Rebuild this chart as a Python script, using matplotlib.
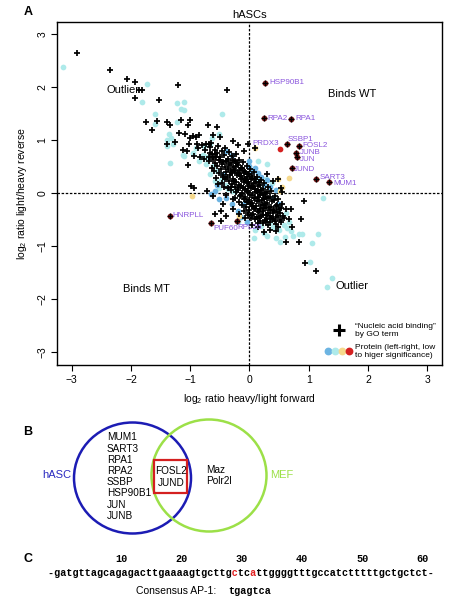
import matplotlib
matplotlib.use("Agg")
import matplotlib.pyplot as plt
from matplotlib.lines import Line2D
from matplotlib.legend_handler import HandlerTuple
from matplotlib.patches import Ellipse, Rectangle

plt.rcParams['font.family'] = ['Liberation Sans', 'DejaVu Sans']
plt.rcParams['mathtext.default'] = 'regular'

# ---- panel A data (log2 ratios) ----
# "nucleic acid binding" proteins (crosses)
cross_x = [-2.91, -2.35, -2.07, -1.94, -1.86, -1.82, -1.94, -1.52, -1.21, -0.38,
           -1.74, -1.64, -1.56, -1.40, -1.34, -1.15, -1.00, -1.04, -0.70, -0.55,
           -1.19, -1.08, -1.01, -0.96, -0.90, -0.85, -1.40, -1.25, -1.02, -0.89,
           -0.80, -0.74, -0.65, -1.12, -1.06, -0.87, -0.75, -0.66, -0.59, -0.93,
           -0.84, -0.76, -0.69, -0.62, -1.04, -0.98, -0.93, -0.72, -0.02, -0.61,
           -0.49, -0.69, -0.28, -0.20, -0.62, -0.45, -0.48, -0.59, -0.39, -0.48,
           -0.28, -0.18, -0.08, 0.53, 0.55, 0.92, 0.87, 0.62, 0.83, 0.24,
           0.94, 1.13, 0.40, 0.30, 0.70, 0.66, 0.72, 0.35, 0.45, 0.05,
           0.15, -0.10, 0.09, 0.49,
           # dense core
           -0.67, -0.64, -0.68, -0.63, -0.59, -0.61, -0.58, -0.60, -0.57,
           -0.53, -0.55, -0.52, -0.54, -0.51, -0.53, -0.47, -0.49, -0.46, -0.48,
           -0.45, -0.47, -0.41, -0.43, -0.40, -0.42, -0.39, -0.41, -0.43, -0.40,
           -0.35, -0.37, -0.34, -0.36, -0.33, -0.35, -0.37, -0.29, -0.31, -0.28,
           -0.30, -0.27, -0.29, -0.31, -0.28, -0.23, -0.25, -0.22, -0.24, -0.21,
           -0.23, -0.25, -0.22, -0.24, -0.17, -0.19, -0.16, -0.18, -0.15, -0.17,
           -0.19, -0.16, -0.18, -0.11, -0.13, -0.10, -0.12, -0.09, -0.11, -0.13,
           -0.10, -0.12, -0.09, -0.05, -0.07, -0.04, -0.06, -0.03, -0.05, -0.07,
           -0.04, -0.06, -0.03, 0.01, -0.01, 0.02, 0.00, 0.03, 0.01, -0.01,
           0.02, 0.00, 0.03, 0.07, 0.05, 0.08, 0.06, 0.09, 0.07, 0.05,
           0.08, 0.06, 0.13, 0.11, 0.14, 0.12, 0.15, 0.13, 0.11, 0.14,
           0.12, 0.15, 0.19, 0.17, 0.20, 0.18, 0.21, 0.19, 0.17, 0.20,
           0.18, 0.25, 0.23, 0.26, 0.24, 0.27, 0.25, 0.23, 0.26, 0.31,
           0.29, 0.32, 0.30, 0.33, 0.31, 0.29, 0.32, 0.37, 0.35, 0.38,
           0.36, 0.39, 0.37, 0.35, 0.43, 0.41, 0.44, 0.42, 0.45, 0.43,
           0.49, 0.47, 0.50, 0.48, 0.51, 0.49, 0.55, 0.53, 0.56, 0.54,
           0.61, 0.59,
           # core, second layer
           -0.27, -0.21, -0.15, -0.09, -0.03, 0.04, 0.10, 0.16,
           -0.26, -0.20, -0.14, -0.08, -0.02, 0.04, 0.10, 0.16, 0.22, 0.28,
           -0.26, -0.20, -0.14, -0.08, -0.02, 0.04, 0.10, 0.16, 0.22, 0.28, 0.34, 0.40,
           -0.14, -0.08, -0.02, 0.04, 0.10, 0.16, 0.22, 0.28, 0.34, 0.40, 0.46,
           -0.02, 0.04, 0.10, 0.16, 0.22, 0.28, 0.45, 0.52,
           -0.44, -0.38, -0.32, -0.38, -0.50, -0.56, -0.32, -0.44]
cross_y = [2.65, 2.33, 2.16, 2.09, 1.94, 1.95, 1.80, 1.76, 2.04, 1.94,
           1.34, 1.19, 1.36, 1.34, 1.28, 1.37, 1.37, 1.28, 1.28, 1.25,
           1.13, 1.11, 1.04, 1.08, 1.06, 1.09, 0.92, 0.96, 0.92, 0.92,
           0.91, 0.92, 0.94, 0.81, 0.79, 0.84, 0.82, 0.76, 0.73, 0.70,
           0.67, 0.64, 0.67, 0.64, 0.52, 0.13, 0.10, 0.04, 0.93, 1.09,
           1.06, 0.92, 0.98, 0.91, -0.06, -0.21, -0.34, -0.40, -0.43, -0.53,
           -0.31, -0.40, -0.47, 0.10, 0.02, -0.16, -0.50, -0.92, -0.92, -0.73,
           -1.33, -1.48, 0.22, 0.35, -0.30, -0.50, -0.65, -0.70, -0.72, -0.60,
           -0.65, 0.80, 0.84, 0.27,
           # dense core
           0.86, 0.73, 0.61, 0.47, 0.81, 0.67, 0.56, 0.41, 0.29,
           0.89, 0.75, 0.63, 0.50, 0.37, 0.16, 0.79, 0.67, 0.55, 0.45,
           0.31, 0.19, 0.85, 0.71, 0.61, 0.49, 0.39, 0.27, 0.12, -0.03,
           0.77, 0.65, 0.53, 0.45, 0.33, 0.23, 0.09, 0.69, 0.57, 0.49,
           0.37, 0.27, 0.17, 0.05, -0.11, 0.73, 0.61, 0.51, 0.41, 0.33,
           0.21, 0.11, 0.01, -0.09, 0.63, 0.53, 0.43, 0.35, 0.27, 0.15,
           0.05, -0.05, -0.17, 0.59, 0.47, 0.37, 0.29, 0.21, 0.09, -0.01,
           -0.11, -0.23, -0.35, 0.51, 0.39, 0.31, 0.23, 0.13, 0.03, -0.07,
           -0.17, -0.27, -0.41, 0.45, 0.35, 0.27, 0.17, 0.09, -0.03, -0.13,
           -0.21, -0.33, -0.47, 0.39, 0.29, 0.19, 0.11, 0.01, -0.09, -0.19,
           -0.29, -0.39, 0.31, 0.21, 0.13, 0.03, -0.07, -0.15, -0.25, -0.35,
           -0.45, -0.57, 0.25, 0.15, 0.05, -0.03, -0.13, -0.23, -0.31, -0.43,
           -0.53, 0.19, 0.07, -0.01, -0.11, -0.21, -0.29, -0.41, -0.51, 0.11,
           0.01, -0.09, -0.19, -0.27, -0.37, -0.49, -0.61, 0.03, -0.07, -0.15,
           -0.27, -0.35, -0.47, -0.55, -0.05, -0.13, -0.25, -0.33, -0.45, -0.53,
           -0.11, -0.23, -0.31, -0.43, -0.51, -0.65, -0.21, -0.29, -0.43, -0.55,
           -0.31, -0.47,
           # core, second layer
           0.62, 0.56, 0.48, 0.42, 0.36, 0.32, 0.26, 0.20,
           0.44, 0.38, 0.32, 0.26, 0.20, 0.14, 0.08, 0.02, -0.04, -0.08,
           0.22, 0.10, 0.14, 0.08, 0.02, -0.04, -0.10, -0.16, -0.22, -0.28, -0.32, -0.38,
           -0.04, -0.12, -0.18, -0.24, -0.30, -0.36, -0.34, -0.42, -0.44, -0.50, -0.36,
           -0.38, -0.42, -0.50, -0.48, -0.56, -0.54, -0.58, -0.38,
           0.58, 0.60, 0.42, 0.30, 0.62, 0.68, 0.12, 0.34]

# proteins by significance class (dots)
cyan_x = [-3.15, -1.73, -1.81, -1.60, -1.23, -1.11, -1.15, -1.11, -0.46, -1.60,
          -1.23, -1.35, -1.32, -1.39, -1.29, -1.39, -0.63, -0.51, -0.67, -0.78,
          -0.73, -1.10, -0.96, -1.34, -1.13, -0.76, -0.81, -0.73, -0.67, -0.59,
          -0.51, -0.37, -0.28, -0.90, -0.85, -0.62, -0.55, -0.70, -0.48, -0.40,
          1.24, 1.05, 1.16, 0.83, 0.88, 0.74, 0.60, 0.52, 0.45, 0.30,
          0.08, 0.25, 1.03, 1.40, 1.31, 0.70, 0.64, 0.58, 0.50, 0.40,
          0.20, 0.55, 0.62, 0.50, 0.66, 0.15, 0.28, 0.38, 0.14, 0.30,
          -0.20, 0.10, 0.35]
cyan_y = [2.38, 2.06, 1.72, 1.50, 1.69, 1.72, 1.58, 1.56, 1.50, 1.30,
          1.34, 1.11, 1.04, 1.00, 0.92, 0.89, 1.04, 1.11, 0.92, 0.72,
          0.68, 0.70, 0.76, 0.57, 0.72, 0.89, 0.67, 0.54, 0.35, 0.23,
          0.10, 0.07, 0.04, 0.85, 0.60, 0.50, 0.42, 0.62, 0.25, 0.15,
          -0.09, -0.94, -0.77, -0.77, -0.78, -0.81, -0.83, -0.92, -0.85, -0.82,
          -0.86, -0.75, -1.30, -1.60, -1.77, -0.72, -0.66, -0.60, -0.70, -0.65,
          -0.62, -0.45, -0.38, -0.30, -0.55, 0.60, 0.26, 0.19, 0.29, 0.55,
          -0.55, -0.70, -0.55]

blue_x = [-0.59, -0.51, -0.65, -0.11, -0.20, -0.40, -0.30, 0.00, 0.05, 0.20,
          0.30, 0.35, 0.45, 0.25, 0.40, 0.50, -0.55, -0.45, 0.15, -0.15,
          -0.05, 0.00, -0.30, -0.40, 0.10]
blue_y = [0.04, -0.12, -0.02, -0.21, -0.34, -0.10, -0.20, 0.50, 0.42, 0.30,
          0.25, 0.12, 0.05, 0.15, -0.10, -0.20, 0.15, 0.35, 0.38, -0.45,
          -0.55, 0.60, 0.72, 0.80, 0.48]

yellow_x = [-0.97, -0.17, 0.66, 0.51, 0.49, 0.09, 0.55]
yellow_y = [-0.06, -0.43, 0.29, 0.04, 0.27, 0.84, 0.12]

# most significant, labelled proteins
sig_names = ['HSP90B1', 'RPA2', 'RPA1', 'SSBP1', 'FOSL2', 'JUNB', 'JUN', 'JUND',
             'SART3', 'MUM1', 'HNRPLL', 'PUF60', 'RPL26', 'PRDX3']
sig_x = [0.26, 0.25, 0.70, 0.64, 0.84, 0.79, 0.81, 0.71, 1.12, 1.34, -1.34, -0.65, -0.21, 0.52]
sig_y = [2.08, 1.41, 1.40, 0.93, 0.89, 0.76, 0.68, 0.47, 0.27, 0.21, -0.43, -0.57, -0.53, 0.83]
sig_binding = [True] * 13 + [False]
label_offsets = {'HSP90B1': (3, 0), 'RPA2': (2, 0), 'RPA1': (3, 0), 'SSBP1': (0.5, 3),
                 'FOSL2': (2.5, 0), 'JUNB': (2.5, 0), 'JUN': (2, -1.7), 'JUND': (1.5, -0.7),
                 'SART3': (3, 0.7), 'MUM1': (3, -1.2), 'HNRPLL': (1.5, 0), 'PUF60': (1.5, -3.8),
                 'RPL26': (0.5, -5), 'PRDX3': (-1, 3.8)}

region_labels = ['Outlier', 'Binds WT', 'Binds MT', 'Outlier']
region_x = [-2.14, 1.74, -1.74, 1.73]
region_y = [1.94, 1.87, -1.82, -1.76]

ticks = [-3, -2, -1, 0, 1, 2, 3]

# ---- panel B / C data ----
hasc_only = ['MUM1', 'SART3', 'RPA1', 'RPA2', 'SSBP', 'HSP90B1', 'JUN', 'JUNB']
shared = ['FOSL2', 'JUND']
mef_only = ['Maz', 'Polr2l']
sequence = '-gatgttagcagagacttgaaaagtgcttgctcattggggtttgccatctttttgctgctct-'
red_pos = [30, 33]
seq_marks = [10, 20, 30, 40, 50, 60]
consensus = 'tgagtca'

CYAN = '#aeeaea'
BLUE = '#6cb4e2'
YELLOW = '#f6d98c'
RED = '#d42020'
SIGDOT = '#7a1616'
PURPLE = '#8a55dd'

fig = plt.figure(figsize=(4.59, 6.09), dpi=100)
ax = fig.add_axes([0.124, 0.4007, 0.839, 0.5632])

ax.scatter(cyan_x, cyan_y, s=17, c=CYAN, linewidths=0, zorder=2)
ax.scatter(blue_x, blue_y, s=17, c=BLUE, linewidths=0, zorder=2)
ax.scatter(yellow_x, yellow_y, s=17, c=YELLOW, linewidths=0, zorder=2)
ax.scatter(cross_x, cross_y, s=18, marker='+', c='black', linewidths=1.25, zorder=3)

bx = [x for x, b in zip(sig_x, sig_binding) if b]
by = [y for y, b in zip(sig_y, sig_binding) if b]
nx = [x for x, b in zip(sig_x, sig_binding) if not b]
ny = [y for y, b in zip(sig_y, sig_binding) if not b]
ax.scatter(bx, by, s=17, c=SIGDOT, linewidths=0, zorder=4)
ax.scatter(bx, by, s=14, marker='+', c='black', linewidths=1.0, zorder=5)
ax.scatter(nx, ny, s=17, c=RED, linewidths=0, zorder=4)
for name, x, y in zip(sig_names, sig_x, sig_y):
    dx, dy = label_offsets[name]
    ax.annotate(name, (x, y), xytext=(dx, dy), textcoords='offset points',
                ha='right' if dx < 0 else 'left', va='center',
                fontsize=5.8, color=PURPLE, zorder=6)

for t, x, y in zip(region_labels, region_x, region_y):
    ax.text(x, y, t, ha='center', va='center', fontsize=8)

ax.axvline(0, color='black', lw=0.9, ls=(0, (2, 1.3)), zorder=1)
ax.axhline(0, color='black', lw=0.9, ls=(0, (2, 1.3)), zorder=1)

ax.set_xlim(-3.25, 3.25)
ax.set_ylim(-3.25, 3.23)
ax.set_xticks(ticks)
ax.set_yticks(ticks)
ax.tick_params(direction='out', length=4, width=0.8, labelsize=7.5, pad=3)
ax.tick_params(axis='y', labelrotation=90)
for lab in ax.get_yticklabels():
    lab.set_va('center')
for sp in ax.spines.values():
    sp.set_linewidth(1.0)
ax.set_xlabel('log$_2$ ratio heavy/light forward', fontsize=7.5, labelpad=5)
ax.set_ylabel('log$_2$ ratio light/heavy reverse', fontsize=7.5, labelpad=6)
ax.set_title('hASCs', fontsize=8, pad=3)

h_cross = Line2D([], [], marker='+', color='black', ls='none', markersize=8, markeredgewidth=2.2)
h_dots = tuple(Line2D([], [], marker='o', color=c, ls='none', markersize=4.6)
               for c in [BLUE, CYAN, YELLOW, RED])
ax.legend([h_cross, h_dots],
          ['\u201cNucleic acid binding\u201d\nby GO term', 'Protein (left-right, low\nto higer significance)'],
          handler_map={tuple: HandlerTuple(ndivide=None, pad=0.1)},
          loc='lower right', frameon=False, fontsize=6, handlelength=3.2,
          handletextpad=0.4, labelspacing=0.7, borderaxespad=0.3)

# ---- overlay in pixel coordinates for panels B and C ----
ov = fig.add_axes([0, 0, 1, 1])
ov.set_xlim(0, 459)
ov.set_ylim(609, 0)
ov.axis('off')
ov.patch.set_visible(False)

for letter, yy in zip(['A', 'B', 'C'], [12, 432, 559]):
    ov.text(28, yy, letter, fontsize=9, fontweight='bold', ha='center', va='center')

ov.add_patch(Ellipse((132.5, 478), 117, 111, fill=False, ec='#1c1cb4', lw=1.8))
ov.add_patch(Ellipse((209, 475.5), 115, 112, fill=False, ec='#9ce048', lw=1.8))
ov.add_patch(Rectangle((154, 460), 33.3, 33.3, fill=False, ec='#d42020', lw=1.6))
ov.text(56.5, 475, 'hASC', color='#2a2ac0', fontsize=8, ha='center', va='center')
ov.text(281.5, 475.5, 'MEF', color='#9ce048', fontsize=8, ha='center', va='center')
for i, g in enumerate(hasc_only):
    ov.text(107, 437.5 + i * 11.2, g, fontsize=7.2, ha='left', va='center')
for i, g in enumerate(shared):
    ov.text(171, 470.7 + i * 12, g, fontsize=7.2, ha='center', va='center')
for i, g in enumerate(mef_only):
    ov.text(206.5, 470 + i * 11, g, fontsize=7.2, ha='left', va='center')

mono = 'Liberation Mono'
cw = 6.03
x0 = 47.7
black_seq = ''.join(' ' if i in red_pos else ch for i, ch in enumerate(sequence))
red_seq = ''.join(ch if i in red_pos else ' ' for i, ch in enumerate(sequence))
ov.text(x0, 572.7, black_seq, family=mono, fontweight='bold', fontsize=7.25,
        ha='left', va='center')
ov.text(x0, 572.7, red_seq, family=mono, fontweight='bold', fontsize=7.25,
        ha='left', va='center', color='#e02020')
for m in seq_marks:
    ov.text(x0 + (m + 2.2) * cw, 559.5, str(m), family=mono, fontweight='bold',
            fontsize=7.25, ha='center', va='center')
ov.text(136.5, 590.7, 'Consensus AP-1:', fontsize=7.5, ha='left', va='center')
ov.text(228.3, 590.7, consensus, family=mono, fontweight='bold', fontsize=7.25,
        ha='left', va='center')

fig.savefig('out.png', dpi=100)
